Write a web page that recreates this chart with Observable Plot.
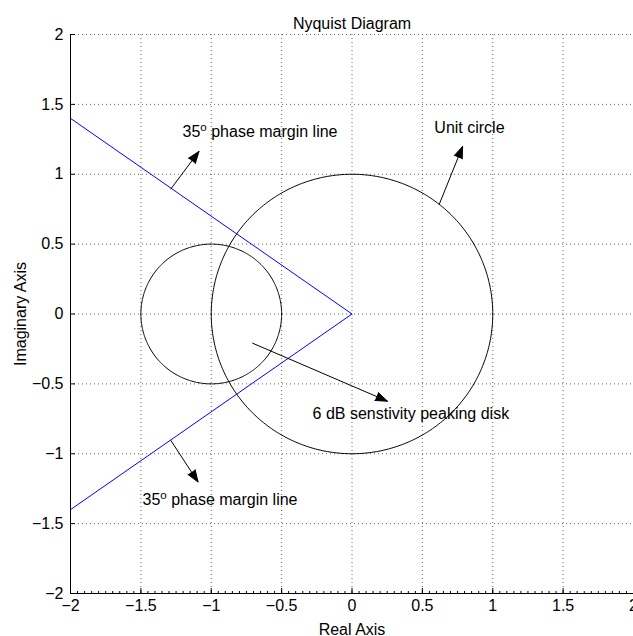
<!DOCTYPE html>
<html>
<head>
<meta charset="utf-8">
<script src="https://cdn.jsdelivr.net/npm/d3@7"></script>
<script src="https://cdn.jsdelivr.net/npm/@observablehq/plot@0.6"></script>
<style>
  html, body { margin: 0; padding: 0; background: #fff; overflow: hidden; }
  #chart svg { display: block; }
</style>
</head>
<body>
<div id="chart"></div>
<script>
// Circles: [centerX, centerY, radius]
const circleCenters = [[0, 0], [-1, 0]];
const circleRadii = [1, 0.5];
// 35 degree phase margin lines (blue)
const marginLineX = [-2, 0, -2];
const marginLineY = [1.4, 0, -1.4];
// Annotation arrows
const arrowX1 = [-1.287, -1.287, -0.706, 0.62];
const arrowY1 = [0.895, -0.905, -0.209, 0.785];
const arrowX2 = [-1.087, -1.094, 0.252, 0.786];
const arrowY2 = [1.164, -1.202, -0.624, 1.20];
// Annotation labels
const labelText = ["35^o phase margin line", "35^o phase margin line", "6 dB senstivity peaking disk", "Unit circle"];
const labelX = [-1.204, -1.488, -0.28, 0.585];
const labelY = [1.30, -1.33, -0.716, 1.329];
// Axis ticks
const xTicks = [-2, -1.5, -1, -0.5, 0, 0.5, 1, 1.5, 2];
const yTicks = [-2, -1.5, -1, -0.5, 0, 0.5, 1, 1.5, 2];
const xMinorTicks = d3.range(-40, 41).map(i => i / 20);

const circlePts = [];
circleCenters.forEach(([cx, cy], k) => {
  const r = circleRadii[k];
  for (let i = 0; i <= 360; i++) {
    const a = i * Math.PI / 180;
    circlePts.push({c: k, x: cx + r * Math.cos(a), y: cy + r * Math.sin(a)});
  }
});
const marginLine = marginLineX.map((x, i) => ({x, y: marginLineY[i]}));
const arrows = arrowX1.map((x1, i) => ({x1, y1: arrowY1[i], x2: arrowX2[i], y2: arrowY2[i]}));
const labels = labelText.map((t, i) => ({t, x: labelX[i], y: labelY[i]}));

function superscript(index, scales, values, dims, ctx, next) {
  const g = next(index, scales, values, dims, ctx);
  d3.select(g).selectAll("text").each(function () {
    const t = this.textContent;
    const m = t.match(/^(.*?)\^(\w)(.*)$/);
    if (m) {
      const s = d3.select(this);
      this.textContent = "";
      s.append("tspan").text(m[1]);
      s.append("tspan").attr("font-size", "0.72em").attr("dy", "-6").text(m[2]);
      s.append("tspan").attr("dy", "6").text(m[3]);
    }
  });
  return g;
}

const fmt = d => d3.format("")(d).replace("-", "\u2212");
const font = "'Liberation Sans', Arial, Helvetica, sans-serif";
const chart = Plot.plot({
  width: 633,
  height: 636,
  marginLeft: 70,
  marginRight: 0,
  marginTop: 34,
  marginBottom: 43,
  style: {fontFamily: font, fontSize: "16px", color: "#000", background: "#fff", overflow: "visible"},
  x: {domain: [-2, 2]},
  y: {domain: [-2, 2]},
  marks: [
    Plot.gridX(xTicks, {stroke: "#666", strokeOpacity: 1, strokeDasharray: "1,3"}),
    Plot.gridY(yTicks, {stroke: "#666", strokeOpacity: 1, strokeDasharray: "1,3"}),
    Plot.axisX(xTicks, {tickSize: 0, tickPadding: 6, tickFormat: fmt, fontSize: 16,
      label: "Real Axis", labelAnchor: "center", labelArrow: "none", labelOffset: 41}),
    Plot.axisX(xTicks, {tickSize: -5, text: null, label: null}),
    Plot.axisX(xMinorTicks, {tickSize: -2, text: null, label: null}),
    Plot.axisY(yTicks, {tickSize: 0, tickPadding: 7, tickFormat: fmt, fontSize: 16,
      label: "Imaginary Axis", labelAnchor: "center", labelArrow: "none", labelOffset: 56}),
    Plot.axisY(yTicks, {tickSize: -5, text: null, label: null}),
    Plot.ruleX([-2], {stroke: "#000"}),
    Plot.ruleY([-2], {stroke: "#000"}),
    Plot.line(circlePts, {x: "x", y: "y", z: "c", stroke: "#000", strokeWidth: 1}),
    Plot.line(marginLine, {x: "x", y: "y", stroke: "#0000ff", strokeWidth: 1}),
    Plot.arrow(arrows, {x1: "x1", y1: "y1", x2: "x2", y2: "y2", stroke: "#000", fill: "#000",
      strokeWidth: 1, headAngle: 40, headLength: 19, strokeLinejoin: "miter"}),
    Plot.text(labels, {x: "x", y: "y", text: "t", textAnchor: "start", fill: "#000", fontSize: 16, render: superscript}),
    Plot.text(["Nyquist Diagram"], {frameAnchor: "top", dy: -17, fontSize: 16, fill: "#000"})
  ]
});
document.getElementById("chart").appendChild(chart);
</script>
</body>
</html>
